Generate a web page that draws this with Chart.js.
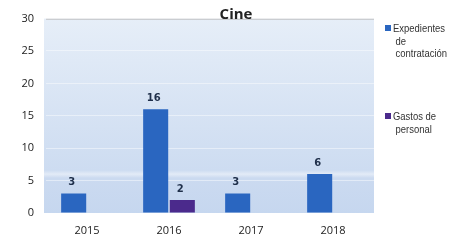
<!DOCTYPE html>
<html lang="es">
<head>
<meta charset="UTF-8">
<title>Cine</title>
<script src="https://cdn.jsdelivr.net/npm/chart.js"></script>
<style>
    body { margin: 0; background: #fff; }
    #wrap { position: relative; width: 451px; height: 241px; overflow: hidden; }
    .leyenda { position: absolute; left: 385px; font-family: "Liberation Sans", sans-serif; font-size: 11px; line-height: 12.5px; color: #333; white-space: nowrap; }
    .leyenda .cuadro { position: absolute; left: 0; top: 3px; width: 6px; height: 6px; }
    .leyenda .txt { margin-left: 8px; transform: scaleX(0.86); transform-origin: left top; }
    .leyenda .txt span { display: block; }
    .leyenda .txt span + span { margin-left: 3px; }
</style>
</head>
<body>
<div id="wrap">
    <canvas id="grafico" width="451" height="241"></canvas>
    <div class="leyenda" style="top: 22px;"><div class="cuadro" style="background:#2a66c0"></div><div class="txt"><span>Expedientes</span><span>de</span><span>contratación</span></div></div>
    <div class="leyenda" style="top: 110px;"><div class="cuadro" style="background:#4b2a8c"></div><div class="txt"><span>Gastos de</span><span>personal</span></div></div>
</div>
<script>
    // datos
    const anios = ['2015', '2016', '2017', '2018'];
    const expedientes = [3, 16, 3, 6];
    const gastosPersonal = [null, 2, null, null];
    const ticksY = [0, 5, 10, 15, 20, 25, 30];

    const fondo = {
        id: 'fondo',
        beforeDraw(chart) {
            const { ctx, chartArea: a } = chart;
            const g = ctx.createLinearGradient(0, a.top, 0, a.bottom);
            g.addColorStop(0, '#e6eef8');
            g.addColorStop(0.78, '#cddcf1');
            g.addColorStop(0.8, '#e3ebf7');
            g.addColorStop(0.82, '#cbdaf0');
            g.addColorStop(1, '#c6d7ef');
            ctx.save();
            ctx.fillStyle = g;
            ctx.fillRect(a.left - 2, a.top, a.right - a.left + 2, a.bottom - a.top);
            ctx.strokeStyle = '#b8b8b8';
            ctx.beginPath();
            ctx.moveTo(a.left, a.top + 0.5);
            ctx.lineTo(a.right, a.top + 0.5);
            ctx.stroke();
            ctx.restore();
        },
        afterDraw(chart) {
            const { ctx } = chart;
            ctx.save();
            ctx.font = 'bold 15px "Open Sans", sans-serif';
            ctx.fillStyle = '#222';
            ctx.textAlign = 'center';
            ctx.textBaseline = 'middle';
            ctx.fillText('Cine', 236, 15);
            // etiquetas de valores
            ctx.font = 'bold 10px "DejaVu Sans", sans-serif';
            ctx.fillStyle = '#1f2f4a';
            ctx.textBaseline = 'bottom';
            chart.data.datasets.forEach((ds, i) => {
                const meta = chart.getDatasetMeta(i);
                meta.data.forEach((bar, j) => {
                    if (ds.data[j] == null) return;
                    ctx.fillText(ds.data[j], bar.x - 2, bar.y - 6);
                });
            });
            ctx.restore();
        }
    };

    new Chart(document.getElementById('grafico'), {
        type: 'bar',
        data: {
            labels: anios,
            datasets: [{
                label: 'Expedientes de contratación',
                data: expedientes,
                backgroundColor: '#2a66c0'
            }, {
                label: 'Gastos de personal',
                data: gastosPersonal,
                backgroundColor: '#4b2a8c'
            }]
        },
        options: {
            responsive: false,
            animation: false,
            categoryPercentage: 0.65,
            barPercentage: 0.94,
            layout: { padding: { top: 5, right: 77, bottom: 0, left: 0 } },
            plugins: {
                legend: { display: false },
                tooltip: { enabled: false }
            },
            scales: {
                x: {
                    grid: { display: false },
                    border: { display: false },
                    ticks: { color: '#222', font: { family: '"Open Sans", sans-serif', size: 11 }, padding: 3 },
                    afterFit(s) { s.height = 28; }
                },
                y: {
                    min: 0,
                    max: 30,
                    afterBuildTicks(s) { s.ticks = ticksY.map(v => ({ value: v })); },
                    grid: { color: 'rgba(255,255,255,0.45)', drawTicks: false },
                    border: { display: false },
                    ticks: { color: '#222', font: { family: '"Open Sans", sans-serif', size: 11 }, padding: 12 },
                    afterFit(s) { s.width = 46; }
                }
            }
        },
        plugins: [fondo]
    });
</script>
</body>
</html>
